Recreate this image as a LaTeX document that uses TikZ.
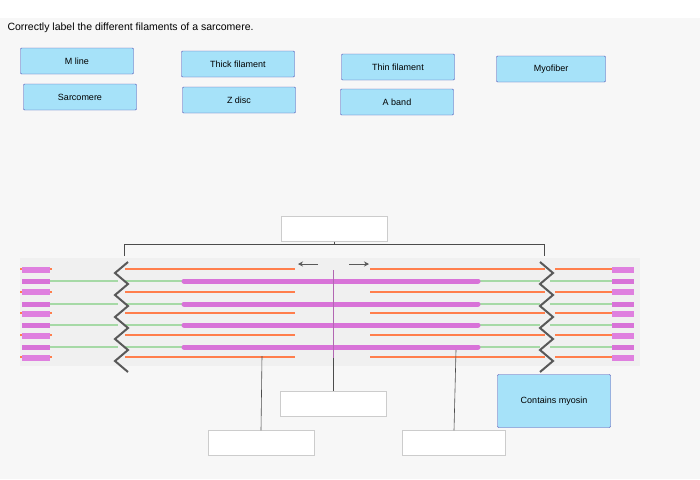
\documentclass[tikz,border=0pt]{standalone}
\usepackage{fontspec}
\setmainfont{Liberation Sans}
\usetikzlibrary{arrows.meta}
\begin{document}
\begin{tikzpicture}[x=1pt,y=-1pt,font=\fontsize{9}{10}\selectfont,
 lab/.style={draw=blue!40!gray,fill=cyan!35!white,minimum width=113pt,minimum height=26pt,inner sep=0pt,rounded corners=1pt},
 emp/.style={draw=gray!40,fill=white,minimum width=106pt,minimum height=25pt,inner sep=0pt},
 thin/.style={draw=red!45!orange!70,line width=1.4pt},
 grn/.style={draw=green!40!gray!50,line width=1.4pt},
 thick/.style={draw=violet!55!magenta!55,line width=5pt,line cap=round},
 lead/.style={draw=gray!60!black,line width=0.6pt}]
\fill[gray!6] (0,0) rectangle (700,479);
\useasboundingbox (0,0) rectangle (700,479);
\fill[white] (0,0) rectangle (700,18);
\node[anchor=west,font=\fontsize{10.5}{12}\selectfont] (title) at (4,28) {Correctly label the different filaments of a sarcomere.};
\node[lab] (m) at (77,61) {M line};
\node[lab] (tk) at (238,64) {Thick filament};
\node[lab] (tn) at (398,67) {Thin filament};
\node[lab,minimum width=109pt] (mf) at (551,69) {Myofiber};
\node[lab] (sc) at (80,97) {Sarcomere};
\node[lab] (zd) at (239,100) {Z disc};
\node[lab] (ab) at (397,102) {A band};
% myofibril
\fill[gray!12] (20,258) rectangle (640,366);
\foreach \y in {269,292,313,335,357}{
 \draw[thin] (20,\y) -- (52,\y);
 \draw[thin] (125,\y) -- (295,\y);
 \draw[thin] (370,\y) -- (545,\y);
 \draw[thin] (555,\y) -- (612,\y);}
\foreach \y in {281,304,325,347}{
 \draw[grn] (50,\y) -- (118,\y);
 \draw[grn] (125,\y) -- (182,\y);
 \draw[grn] (480,\y) -- (540,\y);
 \draw[grn] (550,\y) -- (612,\y);
 \draw[thick] (184,\y) -- (478,\y);
 \draw[thick,line cap=butt] (22,\y) -- (50,\y);
 \draw[thick,line cap=butt] (612,\y) -- (634,\y);}
\foreach \y in {270,292,314,336,358}{
 \fill[violet!50!magenta!50] (22,\y-3) rectangle (50,\y+3);
 \fill[violet!50!magenta!50] (612,\y-3) rectangle (634,\y+3);}
\draw[gray!70!black,line width=2pt] (128,262) \foreach \k in {1,3,5,7,9}{ -- (115,262+11*\k) -- (128,273+11*\k)};
\draw[gray!70!black,line width=2pt] (540,262) \foreach \k in {1,3,5,7,9}{ -- (553,262+11*\k) -- (540,273+11*\k)};
\draw[violet!60,line width=0.8pt] (333,270) -- (333,358);
\draw[gray!70!black,line width=0.9pt,-{Stealth[length=5pt,width=5pt]}] (318,264) -- (298,264);
\draw[gray!70!black,line width=0.9pt,-{Stealth[length=5pt,width=5pt]}] (349,264) -- (369,264);
% bracket and boxes
\node[emp] (top) at (334,229) {};
\coordinate (bl) at (124,256);
\coordinate (br) at (544,256);
\draw[lead] (bl) -- (124,244) -- (544,244) -- (br);
\draw[lead] (top.south) -- (334,244);
\node[emp] (bm) at (333,404) {};
\node[emp] (bll) at (261,443) {};
\node[emp,minimum width=103pt] (brr) at (454,443) {};
\node[lab,minimum height=53pt] (cm) at (554,401) {Contains myosin};
\coordinate (l1) at (262,356);
\coordinate (l2) at (333,358);
\coordinate (l3) at (456,350);
\draw[lead] (l1) -- (bll.north);
\draw[lead] (l2) -- (bm.north);
\draw[lead] (l3) -- (brr.north);
\end{tikzpicture}
\end{document}
